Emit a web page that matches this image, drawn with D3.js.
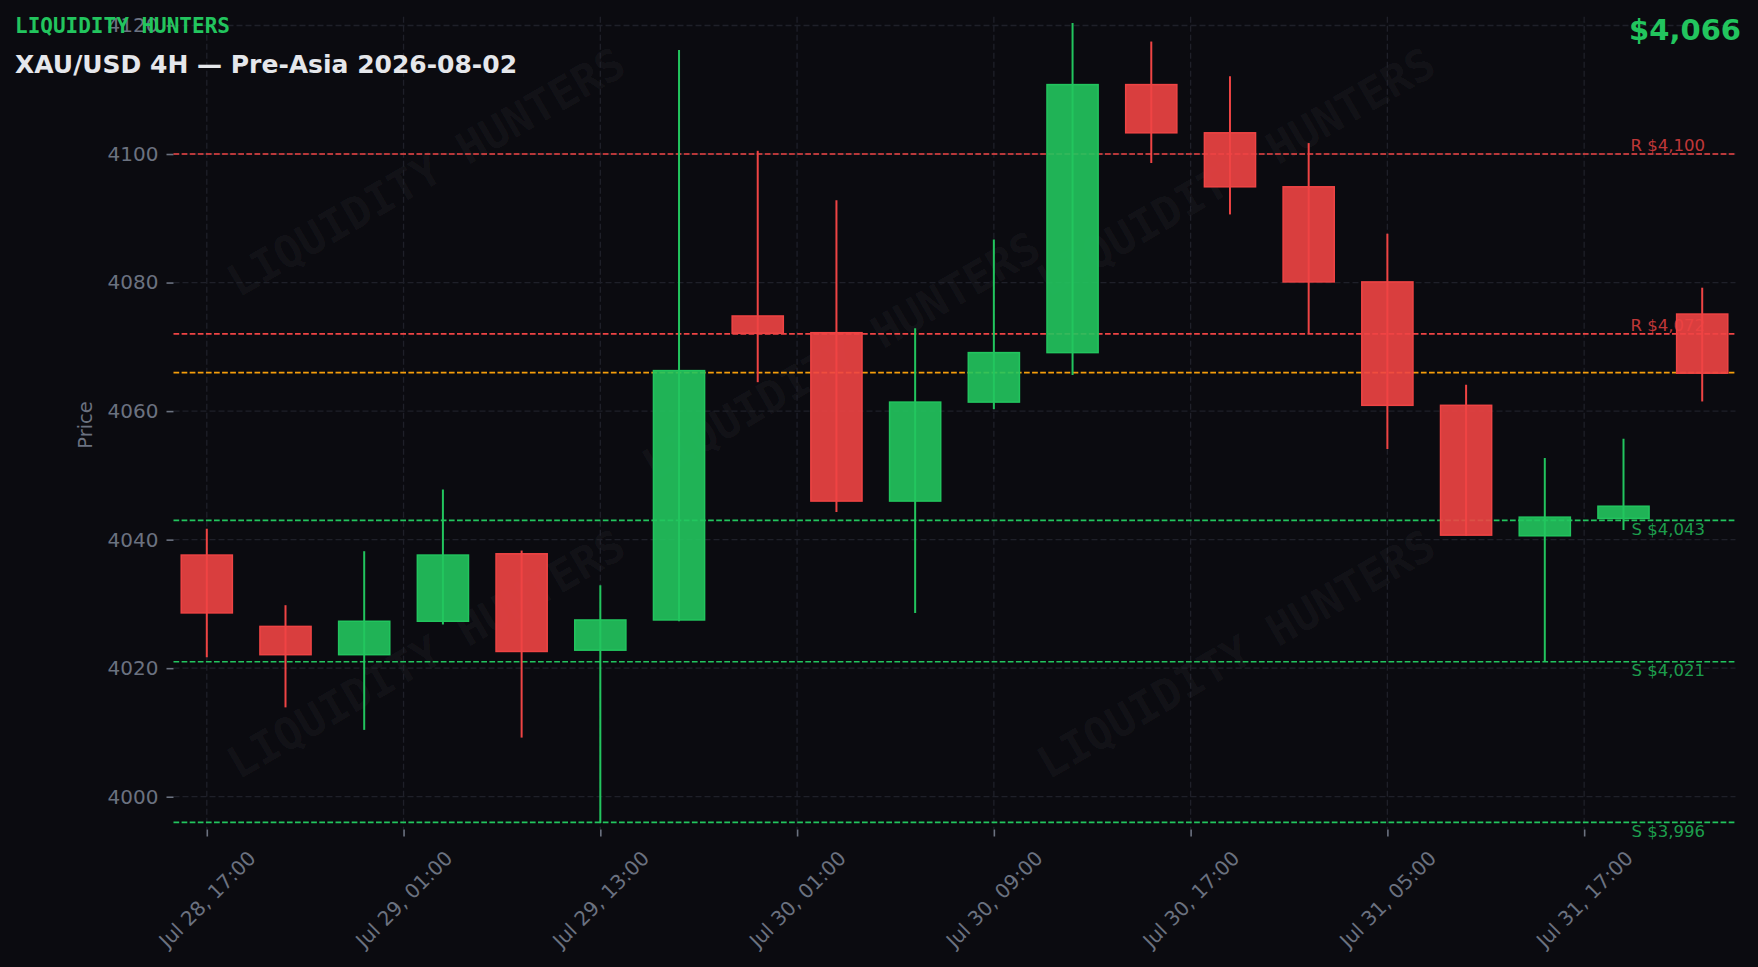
<!DOCTYPE html>
<html>
<head>
<meta charset="utf-8">
<script src="https://cdn.jsdelivr.net/npm/d3@7"></script>
<style>
  html, body { margin: 0; padding: 0; background: #0b0b10; }
  svg { display: block; }
</style>
</head>
<body>
<svg id="chart" width="1758" height="967"></svg>
<script>
// ---- data ----
const opens  = [4037.6, 4026.5, 4022.1, 4027.3, 4037.8, 4022.8, 4027.5, 4074.8, 4072.2, 4046.0, 4061.4, 4069.1, 4110.8, 4103.3, 4094.9, 4080.1, 4060.9, 4040.6, 4043.3, 4075.1];
const closes = [4028.6, 4022.1, 4027.3, 4037.6, 4022.6, 4027.5, 4066.3, 4072.1, 4046.0, 4061.4, 4069.1, 4110.8, 4103.3, 4094.9, 4080.1, 4060.9, 4040.7, 4043.5, 4045.2, 4065.9];
const highs  = [4041.7, 4029.8, 4038.2, 4047.8, 4038.3, 4032.9, 4116.2, 4100.5, 4092.8, 4072.9, 4086.7, 4120.4, 4117.5, 4112.1, 4101.7, 4087.6, 4064.1, 4052.7, 4055.7, 4079.2];
const lows   = [4021.7, 4013.9, 4010.4, 4026.8, 4009.2, 3995.9, 4027.3, 4064.5, 4044.3, 4028.6, 4060.3, 4065.6, 4098.6, 4090.6, 4072.1, 4054.1, 4040.6, 4021.0, 4041.5, 4061.5];
const xTickLabels = ["Jul 28, 17:00", "Jul 29, 01:00", "Jul 29, 13:00", "Jul 30, 01:00", "Jul 30, 09:00", "Jul 30, 17:00", "Jul 31, 05:00", "Jul 31, 17:00"];
const yTicks = [4000, 4020, 4040, 4060, 4080, 4100, 4120];
const resistances = [4100, 4072];
const supports = [4043, 4021, 3996];
const currentPrice = 4066;
const brand = "LIQUIDITY HUNTERS";
const title = "XAU/USD 4H \u2014 Pre-Asia 2026-08-02";

// ---- layout ----
const W = 1758, H = 967;
const plot = { left: 173.5, right: 1735.5, top: 16.8, bottom: 829.5 };
const RED = "#ef4444", GREEN = "#22c55e", ORANGE = "#f59e0b", GRAY = "#6b7280", GRID = "#1f2029";

const svg = d3.select("#chart");
svg.append("rect").attr("width", W).attr("height", H).attr("fill", "#0b0b10");

const n = opens.length;
const x = d3.scaleLinear().domain([-0.423, n - 1 + 0.423]).range([plot.left, plot.right]);
const y = d3.scaleLinear().domain([3994.9, 4121.35]).range([plot.bottom, plot.top]);
const step = x(1) - x(0);
const bodyW = step * 0.65;
const xTickPos = xTickLabels.map((d, i) => i * 2.5);

// ---- watermarks ----
const wm = [[426, 172], [1236, 172], [841, 356], [426, 654], [1236, 654]];
const wmG = svg.append("g");
wm.forEach(([cx, cy]) => {
  wmG.append("text")
    .attr("transform", `translate(${cx},${cy}) rotate(-30)`)
    .attr("text-anchor", "middle").attr("dy", "0.35em")
    .attr("font-family", "DejaVu Sans Mono").attr("font-weight", "bold")
    .attr("font-size", 44).attr("fill", "#ffffff").attr("fill-opacity", 0.045)
    .text(brand);
});

// ---- grid ----
const grid = svg.append("g");
grid.selectAll("line.h").data(yTicks).join("line")
  .attr("x1", plot.left).attr("x2", plot.right)
  .attr("y1", d => y(d)).attr("y2", d => y(d))
  .attr("stroke", GRID).attr("stroke-width", 1.3).attr("stroke-dasharray", "6 3");
grid.selectAll("line.v").data(xTickPos).join("line")
  .attr("x1", d => x(d)).attr("x2", d => x(d))
  .attr("y1", plot.top).attr("y2", plot.bottom)
  .attr("stroke", GRID).attr("stroke-width", 1.3).attr("stroke-dasharray", "6 3");

// ---- axes ----
const yAxis = d3.axisLeft(y).tickValues(yTicks).tickSize(7).tickPadding(8).tickFormat(d3.format("d"));
const yg = svg.append("g").attr("transform", `translate(${plot.left},0)`).call(yAxis);
yg.select(".domain").remove();
yg.selectAll(".tick line").attr("stroke", GRAY).attr("stroke-width", 1.6);
yg.selectAll(".tick text").attr("fill", GRAY).attr("font-family", "DejaVu Sans").attr("font-size", 20);

const xAxis = d3.axisBottom(x).tickValues(xTickPos).tickSize(7).tickFormat((d, i) => xTickLabels[i]);
const xg = svg.append("g").attr("transform", `translate(0,${plot.bottom})`).call(xAxis);
xg.select(".domain").remove();
xg.selectAll(".tick line").attr("stroke", GRAY).attr("stroke-width", 1.6);
xg.selectAll(".tick text")
  .attr("fill", GRAY).attr("font-family", "DejaVu Sans").attr("font-size", 20)
  .attr("text-anchor", "middle").attr("y", 0).attr("dy", "0.35em")
  .attr("transform", "translate(0,69.7) rotate(-45)");

svg.append("text")
  .attr("transform", `translate(92,425) rotate(-90)`)
  .attr("text-anchor", "middle")
  .attr("font-family", "DejaVu Sans").attr("font-size", 19.5).attr("fill", GRAY)
  .text("Price");

// ---- horizontal levels ----
const lv = svg.append("g");
function hline(v, color) {
  lv.append("line").attr("x1", plot.left).attr("x2", plot.right)
    .attr("y1", y(v)).attr("y2", y(v))
    .attr("stroke", color).attr("stroke-width", 1.7).attr("stroke-dasharray", "5.7 2.4");
}
resistances.forEach(v => {
  hline(v, RED);
  lv.append("text").attr("x", 1705).attr("y", y(v) - 3).attr("text-anchor", "end")
    .attr("font-family", "DejaVu Sans").attr("font-size", 16.5)
    .attr("fill", RED).attr("fill-opacity", 0.8)
    .text("R $" + d3.format(",")(v));
});
supports.forEach(v => {
  hline(v, GREEN);
  lv.append("text").attr("x", 1705).attr("y", y(v) + 14.5).attr("text-anchor", "end")
    .attr("font-family", "DejaVu Sans").attr("font-size", 16.5)
    .attr("fill", GREEN).attr("fill-opacity", 0.8)
    .text("S $" + d3.format(",")(v));
});
hline(currentPrice, ORANGE);

// ---- candles ----
const candles = d3.range(n).map(i => ({ i, o: opens[i], c: closes[i], h: highs[i], l: lows[i] }));
const cg = svg.append("g");
cg.selectAll("line.wick").data(candles).join("line")
  .attr("x1", d => x(d.i)).attr("x2", d => x(d.i))
  .attr("y1", d => y(d.h)).attr("y2", d => y(d.l))
  .attr("stroke", d => d.c >= d.o ? GREEN : RED).attr("stroke-width", 2);
cg.selectAll("rect.body").data(candles).join("rect")
  .attr("x", d => x(d.i) - bodyW / 2).attr("width", bodyW)
  .attr("y", d => y(Math.max(d.o, d.c)))
  .attr("height", d => Math.max(1, Math.abs(y(d.o) - y(d.c))))
  .attr("fill", d => d.c >= d.o ? GREEN : RED).attr("fill-opacity", 0.9)
  .attr("stroke", d => d.c >= d.o ? GREEN : RED).attr("stroke-width", 1.5);

// ---- titles ----
svg.append("text").attr("x", 15).attr("y", 33.3)
  .attr("font-family", "DejaVu Sans Mono").attr("font-weight", "bold").attr("font-size", 21)
  .attr("fill", GREEN).text(brand);
svg.append("text").attr("x", 15).attr("y", 73.3)
  .attr("font-family", "DejaVu Sans").attr("font-weight", "bold").attr("font-size", 25)
  .attr("fill", "#e5e7eb").text(title);
svg.append("text").attr("x", 1741).attr("y", 39.5).attr("text-anchor", "end")
  .attr("font-family", "DejaVu Sans").attr("font-weight", "bold").attr("font-size", 29)
  .attr("fill", GREEN).text("$" + d3.format(",")(currentPrice));
</script>
</body>
</html>
